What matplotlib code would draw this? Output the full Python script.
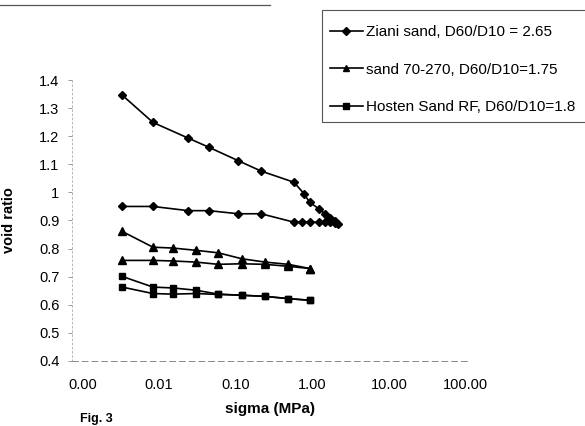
import matplotlib
matplotlib.use("Agg")
import matplotlib.pyplot as plt
from matplotlib.lines import Line2D
from matplotlib.patches import Rectangle

plt.rcParams['font.family'] = ['Liberation Sans', 'DejaVu Sans']

# ---- data ----
ziani_sigma_load = [0.0033, 0.0083, 0.024, 0.045, 0.107, 0.213, 0.574, 0.775, 0.914, 1.22, 1.46, 1.69, 1.96, 2.17]
ziani_e_load = [1.346, 1.249, 1.193, 1.160, 1.113, 1.076, 1.036, 0.995, 0.965, 0.941, 0.923, 0.909, 0.897, 0.888]
ziani_sigma_unload = [1.96, 1.69, 1.46, 1.22, 0.914, 0.72, 0.574, 0.213, 0.107, 0.045, 0.024, 0.0083, 0.0033]
ziani_e_unload = [0.890, 0.894, 0.894, 0.894, 0.894, 0.894, 0.894, 0.924, 0.924, 0.935, 0.935, 0.950, 0.950]

sand_sigma = [0.0033, 0.0083, 0.015, 0.030, 0.059, 0.119, 0.240, 0.483, 0.928]
sand_e_loose = [0.861, 0.805, 0.802, 0.794, 0.785, 0.764, 0.752, 0.744, 0.729]
sand_e_dense = [0.758, 0.758, 0.756, 0.752, 0.744, 0.746, 0.744, 0.737, 0.729]

hosten_sigma = [0.0033, 0.0083, 0.015, 0.030, 0.059, 0.119, 0.240, 0.483, 0.928]
hosten_e_loose = [0.701, 0.663, 0.660, 0.652, 0.638, 0.634, 0.630, 0.622, 0.616]
hosten_e_dense = [0.663, 0.640, 0.638, 0.640, 0.637, 0.634, 0.630, 0.622, 0.616]

labels = ["Ziani sand, D60/D10 = 2.65", "sand 70-270, D60/D10=1.75", "Hosten Sand RF, D60/D10=1.8"]
x_ticks = [0.001, 0.01, 0.1, 1, 10, 100]
x_ticklabels = ["0.00", "0.01", "0.10", "1.00", "10.00", "100.00"]
y_ticks = [0.4, 0.5, 0.6, 0.7, 0.8, 0.9, 1.0, 1.1, 1.2, 1.3, 1.4]
y_ticklabels = ["0.4", "0.5", "0.6", "0.7", "0.8", "0.9", "1", "1.1", "1.2", "1.3", "1.4"]

# ---- figure ----
W, H = 585, 426
fig = plt.figure(figsize=(W / 100, H / 100), dpi=100)
ax = fig.add_axes([72 / W, 1 - 361 / H, (468 - 72) / W, (361 - 80) / H])

lk = dict(color='black', lw=1.2)
ax.plot(ziani_sigma_load + ziani_sigma_unload, ziani_e_load + ziani_e_unload,
        marker='D', ms=4.5, **lk)
ax.plot(sand_sigma, sand_e_loose, marker='^', ms=6, **lk)
ax.plot(sand_sigma, sand_e_dense, marker='^', ms=6, **lk)
ax.plot(hosten_sigma, hosten_e_loose, marker='s', ms=5, **lk)
ax.plot(hosten_sigma, hosten_e_dense, marker='s', ms=5, **lk)

ax.set_xscale('log')
ax.set_xlim(7.3e-4, 106.5)
ax.set_ylim(0.4, 1.4)
ax.set_xticks(x_ticks)
ax.set_xticklabels(x_ticklabels)
ax.minorticks_off()
ax.set_yticks(y_ticks)
ax.set_yticklabels(y_ticklabels)
ax.tick_params(axis='x', length=0, labelsize=10.5, pad=12)
ax.tick_params(axis='y', length=3, width=0.6, color='#888888', labelsize=10.5, pad=6)

for s in ['top', 'right']:
    ax.spines[s].set_visible(False)
ax.spines['left'].set_color('#aaaaaa')
ax.spines['left'].set_linestyle((0, (2, 3)))
ax.spines['left'].set_linewidth(0.6)
ax.spines['bottom'].set_color('#888888')
ax.spines['bottom'].set_linestyle((0, (6, 4)))
ax.spines['bottom'].set_linewidth(0.7)

fig.text(270 / W, 1 - 409 / H, "sigma (MPa)", ha='center', va='center',
         fontsize=11, fontweight='bold')
fig.text(9 / W, 1 - 220 / H, "void ratio", ha='center', va='center',
         rotation=90, fontsize=10.5, fontweight='bold')
fig.text(80 / W, 1 / H, "Fig. 3", ha='left', va='bottom', fontsize=9, fontweight='bold')

# chart area border remnant at top
fig.add_artist(Line2D([0, 270 / W], [1 - 5 / H, 1 - 5 / H], color='#555555', lw=0.9,
                      transform=fig.transFigure))
# legend frame (runs off the right edge as in the scan)
fig.add_artist(Rectangle((322 / W, 1 - 122 / H), (620 - 322) / W, (122 - 10) / H,
                         transform=fig.transFigure, fill=False,
                         edgecolor='#555555', lw=0.8))

handles = [Line2D([], [], color='black', lw=1.2, marker='D', ms=4),
           Line2D([], [], color='black', lw=1.2, marker='^', ms=5),
           Line2D([], [], color='black', lw=1.2, marker='s', ms=4.5)]
leg = fig.legend(handles, labels, loc='upper left',
                 bbox_to_anchor=(330 / W, 1 - 25 / H), bbox_transform=fig.transFigure,
                 fontsize=11, frameon=False, borderaxespad=0, borderpad=0,
                 handlelength=2.15, handletextpad=0.2, labelspacing=1.55)

fig.savefig("out.png", dpi=100)
